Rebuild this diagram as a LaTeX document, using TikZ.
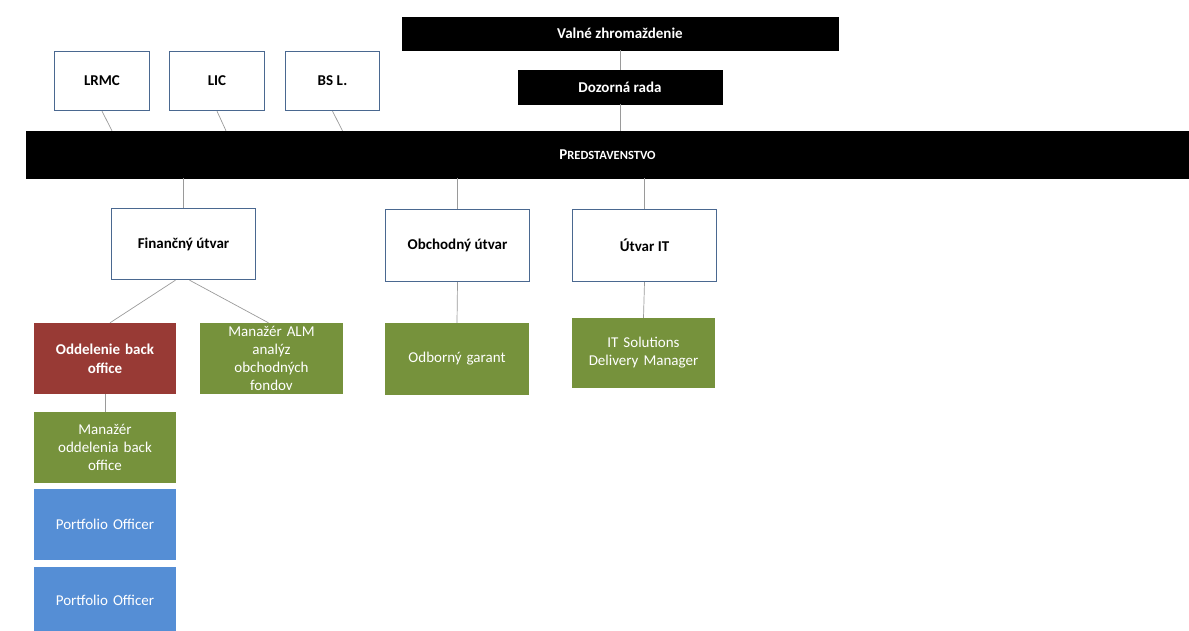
\documentclass[tikz,border=0pt]{standalone}
\usepackage{fontspec}
\setmainfont{Carlito}
\definecolor{boxborder}{HTML}{4A6890}
\definecolor{olivegreen}{HTML}{76923C}
\definecolor{darkred}{HTML}{983A35}
\definecolor{officeblue}{HTML}{558ED5}
\definecolor{linegray}{HTML}{9A9A9A}
\begin{document}
\begin{tikzpicture}[x=1pt,y=-1pt,
  base/.style={rectangle, inner sep=2pt, align=center, font=\fontsize{15}{18}\selectfont},
  blackbox/.style={base, fill=black, draw=black, text=white, font=\fontsize{15}{18}\selectfont\bfseries},
  whitebox/.style={base, fill=white, draw=boxborder, line width=1.3pt, text=black, font=\fontsize{15}{18}\selectfont\bfseries},
  greenbox/.style={base, fill=olivegreen, draw=none, text=white, text width=138pt},
  redbox/.style={base, fill=darkred, draw=none, text=white, text width=138pt, font=\fontsize{15}{19}\selectfont\bfseries},
  bluebox/.style={base, fill=officeblue, draw=none, text=white, text width=138pt},
  conn/.style={draw=linegray, line width=0.7pt}
]
\useasboundingbox (0,0) rectangle (1189,630);
\begin{scope}
\clip (0,0) rectangle (1189,630);
% top
\node[blackbox, minimum width=436pt, minimum height=33pt] (vz) at (620,33.5) {Valné zhromaždenie};
\node[blackbox, minimum width=204pt, minimum height=34pt] (dr) at (620,87) {Dozorná rada};
\node[whitebox, minimum width=95pt, minimum height=59pt] (lrmc) at (102,81) {LRMC};
\node[whitebox, minimum width=95pt, minimum height=59pt] (lic) at (217,81) {LIC};
\node[whitebox, minimum width=94pt, minimum height=59pt] (bsl) at (332.5,81) {BS L.};
\node[blackbox, minimum width=1163pt, minimum height=47pt] (pr) at (607.5,154.5) {P{\fontsize{12.5}{15}\selectfont REDSTAVENSTVO}};
% departments
\node[whitebox, minimum width=144pt, minimum height=71pt] (fu) at (183.5,244) {Finančný útvar};
\node[whitebox, minimum width=144pt, minimum height=72pt] (ou) at (457.5,245.5) {Obchodný útvar};
\node[whitebox, minimum width=144pt, minimum height=72pt] (it) at (644.5,245.5) {Útvar IT};
% level 3
\node[redbox, minimum width=142pt, minimum height=71pt] (obo) at (105,358.5) {Oddelenie back\\office};
\node[greenbox, minimum width=143pt, minimum height=71pt] (alm) at (271.5,358.5) {Manažér ALM\\analýz\\obchodných\\fondov};
\node[greenbox, minimum width=144pt, minimum height=72pt] (og) at (457,359) {Odborný garant};
\node[greenbox, minimum width=143pt, minimum height=70pt] (its) at (643.5,353) {IT Solutions\\Delivery Manager};
\node[greenbox, minimum width=142pt, minimum height=71pt] (mobo) at (105,447.5) {Manažér\\oddelenia back\\office};
\node[bluebox, minimum width=142pt, minimum height=71pt] (po1) at (105,524.5) {Portfolio Officer};
\node[bluebox, minimum width=142pt, minimum height=67pt] (po2) at (105,600.5) {Portfolio Officer};
% connectors
\draw[conn] (vz.south) -- (dr.north);
\draw[conn] (dr.south) -- (dr.south |- pr.north);
\draw[conn] (lrmc.south) -- ([xshift=10pt]lrmc.south |- pr.north);
\draw[conn] (lic.south) -- ([xshift=9pt]lic.south |- pr.north);
\draw[conn] (bsl.south) -- ([xshift=10pt]bsl.south |- pr.north);
\draw[conn] (fu.north |- pr.south) -- (fu.north);
\draw[conn] (ou.north |- pr.south) -- (ou.north);
\draw[conn] (it.north |- pr.south) -- (it.north);
\draw[conn] ([xshift=-8pt]fu.south) -- ([xshift=5pt]obo.north);
\draw[conn] ([xshift=6pt]fu.south) -- ([xshift=-3pt]alm.north);
\draw[conn] (ou.south) -- (og.north);
\draw[conn] (it.south) -- (its.north);
\draw[conn] (obo.south) -- (mobo.north);
\end{scope}
\end{tikzpicture}
\end{document}
